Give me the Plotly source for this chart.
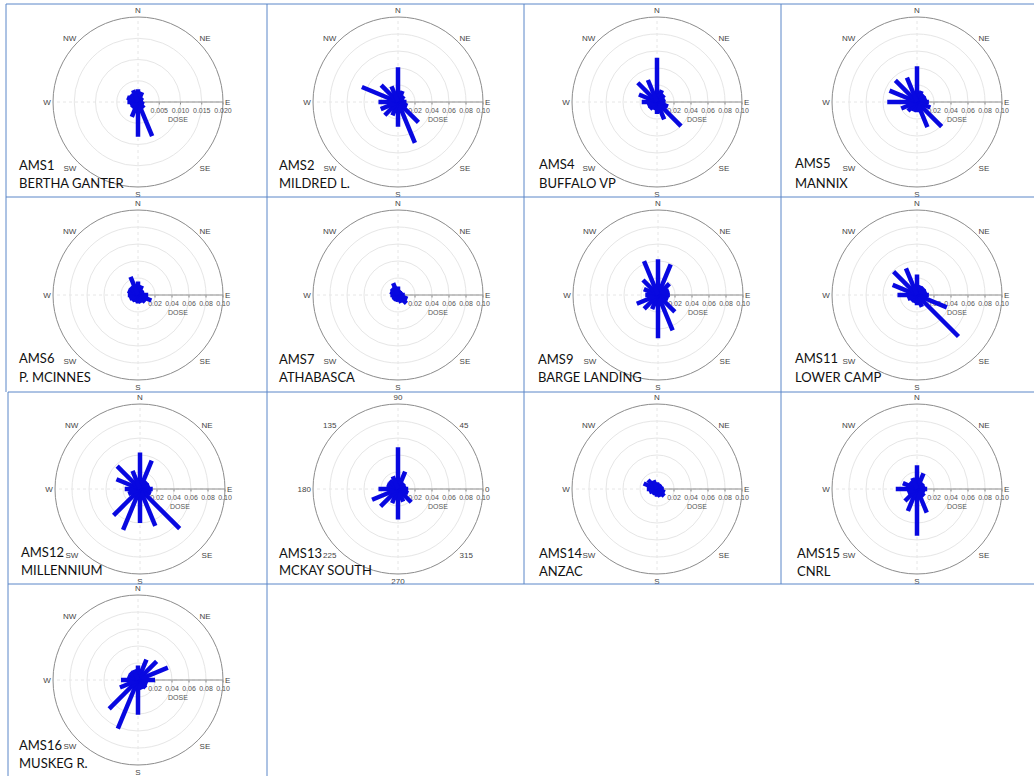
import plotly.graph_objects as go

# Compass bins (degrees clockwise from north)
DIRECTIONS = [0, 22.5, 45, 67.5, 90, 112.5, 135, 157.5,
              180, 202.5, 225, 247.5, 270, 292.5, 315, 337.5]

# Dose by wind-direction bin for each monitoring station
AMS1 = [0.0030, 0.0025, 0.0015, 0.0012, 0.0012, 0.0015, 0.0020, 0.0087,
        0.0082, 0.0038, 0.0020, 0.0020, 0.0025, 0.0028, 0.0025, 0.0030]
AMS2 = [0.041, 0.014, 0.010, 0.008, 0.010, 0.012, 0.034, 0.052,
        0.029, 0.017, 0.022, 0.022, 0.023, 0.046, 0.028, 0.020]
AMS4 = [0.052, 0.015, 0.012, 0.010, 0.010, 0.014, 0.040, 0.022,
        0.014, 0.010, 0.012, 0.012, 0.018, 0.023, 0.032, 0.028]
AMS5 = [0.042, 0.014, 0.012, 0.012, 0.014, 0.017, 0.041, 0.032,
        0.012, 0.012, 0.015, 0.020, 0.035, 0.035, 0.036, 0.031]
AMS6 = [0.016, 0.012, 0.008, 0.008, 0.012, 0.017, 0.012, 0.010,
        0.010, 0.009, 0.010, 0.011, 0.012, 0.013, 0.013, 0.023]
AMS7 = [0.010, 0.006, 0.006, 0.006, 0.008, 0.012, 0.014, 0.010,
        0.008, 0.008, 0.008, 0.008, 0.009, 0.010, 0.011, 0.015]
AMS9 = [0.042, 0.039, 0.019, 0.014, 0.014, 0.013, 0.028, 0.045,
        0.051, 0.018, 0.023, 0.027, 0.015, 0.018, 0.025, 0.043]
AMS11 = [0.024, 0.012, 0.012, 0.012, 0.014, 0.038, 0.069, 0.015,
         0.012, 0.010, 0.010, 0.012, 0.023, 0.031, 0.039, 0.034]
AMS12 = [0.043, 0.036, 0.012, 0.012, 0.015, 0.014, 0.066, 0.047,
         0.040, 0.052, 0.044, 0.015, 0.018, 0.030, 0.038, 0.023]
AMS13 = [0.049, 0.022, 0.010, 0.010, 0.012, 0.013, 0.022, 0.016,
         0.036, 0.018, 0.029, 0.033, 0.023, 0.014, 0.014, 0.016]
AMS14 = [0.008, 0.007, 0.007, 0.007, 0.008, 0.010, 0.012, 0.010,
         0.009, 0.008, 0.008, 0.010, 0.012, 0.017, 0.015, 0.011]
AMS15 = [0.028, 0.020, 0.010, 0.010, 0.012, 0.010, 0.012, 0.030,
         0.055, 0.028, 0.020, 0.012, 0.025, 0.018, 0.012, 0.014]
AMS16 = [0.017, 0.026, 0.031, 0.038, 0.020, 0.012, 0.013, 0.012,
         0.041, 0.062, 0.048, 0.023, 0.020, 0.013, 0.013, 0.013]

STATION_IDS = ["AMS1", "AMS2", "AMS4", "AMS5", "AMS6", "AMS7", "AMS9",
               "AMS11", "AMS12", "AMS13", "AMS14", "AMS15", "AMS16"]
STATION_NAMES = ["BERTHA GANTER", "MILDRED L.", "BUFFALO VP", "MANNIX",
                 "P. MCINNES", "ATHABASCA", "BARGE LANDING", "LOWER CAMP",
                 "MILLENNIUM", "MCKAY SOUTH", "ANZAC", "CNRL", "MUSKEG R."]
STATION_DOSE = [AMS1, AMS2, AMS4, AMS5, AMS6, AMS7, AMS9, AMS11,
                AMS12, AMS13, AMS14, AMS15, AMS16]

# Radial scale per panel
RMAX = [0.020] + [0.10] * 12
TICKS_FINE = [0.005, 0.010, 0.015, 0.020]
TICKS_STD = [0.02, 0.04, 0.06, 0.08, 0.10]

COMPASS_LABELS = ["N", "NE", "E", "SE", "S", "SW", "W", "NW"]
DEGREE_LABELS = ["90", "45", "0", "315", "270", "225", "180", "135"]
LABEL_ANGLES = [0, 45, 90, 135, 180, 225, 270, 315]

# ---- page layout (pixels) ----
W, H = 1034, 776
R = 85
CENTERS = [(138, 102), (398, 102), (657, 102), (917, 102),
           (138, 295), (398, 295), (658, 295), (917, 295),
           (140, 489), (398, 489), (657, 489), (917, 489),
           (138, 680)]
TEXT_POS = [(17, 165, 183), (277, 165, 183), (537, 164, 183), (793, 163, 183),
            (17, 358, 377), (277, 359, 377), (536, 359, 377), (793, 358, 377),
            (19, 552, 570), (277, 553, 570), (537, 553, 571), (795, 553, 571),
            (17, 745, 763)]

SPOKE_COLOR = "#0808e0"
TEXT_FONT = "Lato"
AXIS_FONT = "Liberation Sans"
GRID_COLOR = "#e6e6e6"

fig = go.Figure()
layout = {}
annotations = []
n = len(STATION_IDS)

for i in range(n):
    cx, cy = CENTERS[i]
    domain = dict(x=[(cx - R) / W, (cx + R) / W],
                  y=[1 - (cy + R) / H, 1 - (cy - R) / H])
    ticks = TICKS_FINE if RMAX[i] < 0.05 else TICKS_STD
    fmt = "{:.3f}" if RMAX[i] < 0.05 else "{:.2f}"

    grid_id = "polar" if i == 0 else f"polar{i + 1}"
    main_id = f"polar{i + 1 + n}"

    # faint rings and cross-hair underneath the rose
    layout[grid_id] = dict(
        domain=domain, bgcolor="rgba(0,0,0,0)",
        radialaxis=dict(range=[0, RMAX[i]], tickvals=ticks[:-1],
                        showticklabels=False, showline=False, ticks="",
                        showgrid=True, gridcolor=GRID_COLOR, gridwidth=1),
        angularaxis=dict(direction="clockwise", rotation=90,
                         tickvals=[0, 90, 180, 270], showticklabels=False,
                         ticks="", showline=False, showgrid=True,
                         gridcolor=GRID_COLOR, griddash="dot", gridwidth=1),
    )
    # empty trace so the grid subplot gets rendered
    fig.add_trace(go.Scatterpolar(r=[None], theta=[None], mode="lines",
                                  subplot=grid_id, hoverinfo="skip",
                                  showlegend=False))

    labels = DEGREE_LABELS if STATION_IDS[i] == "AMS13" else COMPASS_LABELS
    layout[main_id] = dict(
        domain=domain, bgcolor="rgba(0,0,0,0)",
        radialaxis=dict(range=[0, RMAX[i]], tickvals=ticks,
                        ticktext=[fmt.format(t) for t in ticks],
                        angle=0, side="clockwise", showline=True,
                        linecolor="#8c8c8c", linewidth=1, ticks="outside",
                        ticklen=2, tickcolor="#8c8c8c", showgrid=False,
                        tickfont=dict(family=AXIS_FONT, size=7, color="#555"),
                        layer="below traces"),
        angularaxis=dict(direction="clockwise", rotation=90,
                         tickvals=LABEL_ANGLES, ticktext=labels,
                         showline=True, linecolor="#8c8c8c", linewidth=1,
                         showgrid=False, ticks="",
                         tickfont=dict(family=AXIS_FONT, size=8, color="#444"),
                         layer="below traces"),
    )

    # one thick spoke per direction bin
    rr, tt = [], []
    for d, v in zip(DIRECTIONS, STATION_DOSE[i]):
        rr += [0, v, None]
        tt += [d, d, None]
    fig.add_trace(go.Scatterpolar(
        r=rr, theta=tt, mode="lines", subplot=main_id,
        line=dict(color=SPOKE_COLOR, width=4.5), connectgaps=False,
        hoverinfo="skip", showlegend=False))

    # radial axis title
    annotations.append(dict(
        x=(cx + 40) / W, y=1 - (cy + 17) / H, xref="paper", yref="paper",
        text="DOSE", showarrow=False, xanchor="center", yanchor="middle",
        font=dict(family=AXIS_FONT, size=7, color="#555")))

    # station label
    tx, ty1, ty2 = TEXT_POS[i]
    annotations.append(dict(
        x=tx / W, y=1 - ty1 / H, xref="paper", yref="paper",
        text=STATION_IDS[i], showarrow=False, xanchor="left",
        yanchor="middle", font=dict(family=TEXT_FONT, size=13, color="#111")))
    annotations.append(dict(
        x=tx / W, y=1 - ty2 / H, xref="paper", yref="paper",
        text=STATION_NAMES[i], showarrow=False, xanchor="left",
        yanchor="middle", font=dict(family=TEXT_FONT, size=13, color="#111")))

# table cell borders
BORDER = "#5b86c8"
segments = [
    (6, 4, 1034, 4), (6, 197, 1034, 197), (8, 392, 1034, 392),
    (8, 584, 1034, 584),
    (6, 4, 6, 197), (6, 197, 6, 392), (8, 392, 8, 776),
    (267, 4, 267, 584), (524, 4, 524, 584), (781, 4, 781, 584),
    (267, 584, 267, 776),
]
shapes = [dict(type="line", xref="paper", yref="paper",
               x0=x0 / W, y0=1 - y0 / H, x1=x1 / W, y1=1 - y1 / H,
               line=dict(color=BORDER, width=1))
          for x0, y0, x1, y1 in segments]

fig.update_layout(
    width=W, height=H, margin=dict(l=0, r=0, t=0, b=0),
    paper_bgcolor="white", plot_bgcolor="white", showlegend=False,
    annotations=annotations, shapes=shapes, **layout)

fig.write_html("out.html")
